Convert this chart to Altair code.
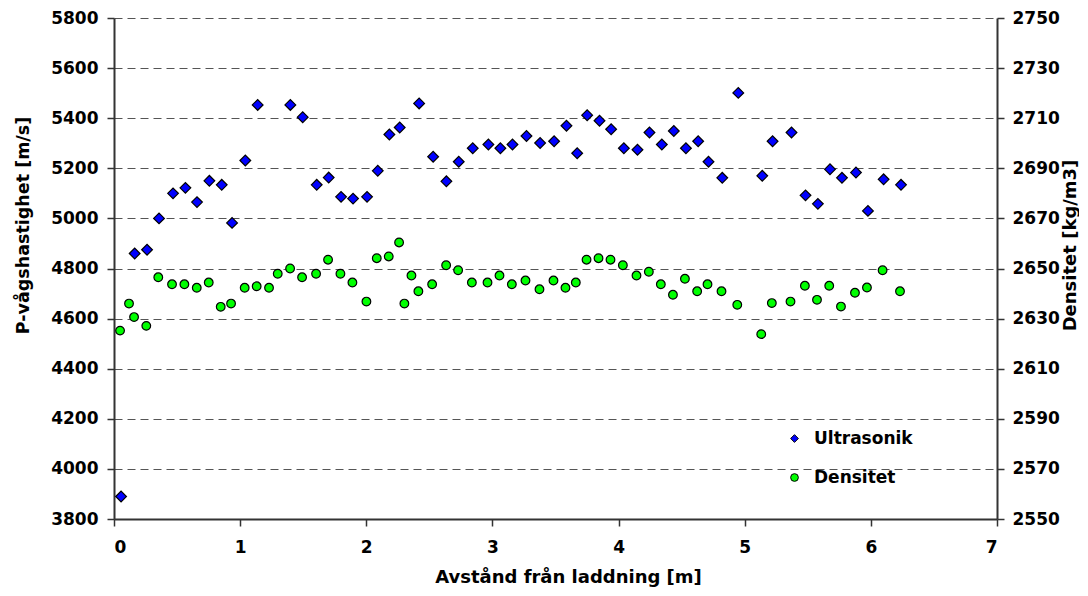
import altair as alt
import pandas as pd

ultra_x = [0.056, 0.164, 0.262, 0.357, 0.468, 0.566, 0.658, 0.756, 0.854, 0.936,
           1.041, 1.139, 1.398, 1.496, 1.607, 1.702, 1.800, 1.895, 2.006, 2.091,
           2.183, 2.265, 2.419, 2.530, 2.635, 2.733, 2.844, 2.968, 3.063, 3.159,
           3.270, 3.378, 3.489, 3.587, 3.672, 3.751, 3.849, 3.941, 4.042, 4.150,
           4.245, 4.343, 4.438, 4.534, 4.631, 4.713, 4.822, 4.949, 5.139, 5.221,
           5.371, 5.482, 5.580, 5.676, 5.771, 5.882, 5.977, 6.101, 6.239]
ultra_v = [3890, 4860, 4875, 5000, 5100, 5122, 5065, 5150, 5134, 4982,
           5231, 5453, 5453, 5404, 5134, 5163, 5086, 5079, 5086, 5190,
           5335, 5363, 5459, 5246, 5148, 5226, 5280, 5295, 5280, 5295,
           5329, 5301, 5308, 5370, 5260, 5412, 5390, 5356, 5280, 5274,
           5343, 5295, 5349, 5280, 5308, 5226, 5162, 5501, 5170, 5308,
           5343, 5092, 5058, 5196, 5162, 5183, 5030, 5156, 5134]

dens_x = [0.048, 0.119, 0.159, 0.256, 0.351, 0.460, 0.558, 0.656, 0.751, 0.846,
          0.928, 1.036, 1.131, 1.229, 1.298, 1.396, 1.491, 1.602, 1.697, 1.795,
          1.890, 2.001, 2.083, 2.178, 2.260, 2.302, 2.358, 2.413, 2.522, 2.633,
          2.728, 2.837, 2.961, 3.056, 3.154, 3.262, 3.373, 3.484, 3.579, 3.661,
          3.746, 3.841, 3.936, 4.034, 4.142, 4.240, 4.335, 4.431, 4.526, 4.623,
          4.705, 4.816, 4.941, 5.131, 5.215, 5.363, 5.477, 5.573, 5.670, 5.763,
          5.874, 5.969, 6.093, 6.231]
dens_v = [2625.2, 2636.0, 2630.6, 2627.1, 2646.5, 2643.7, 2643.7, 2642.3, 2644.4, 2634.7,
          2636.0, 2642.3, 2642.9, 2642.3, 2647.9, 2650.0, 2646.5, 2647.9, 2653.5, 2647.9,
          2644.4, 2636.8, 2654.1, 2654.8, 2660.4, 2636.0, 2647.2, 2640.9, 2643.7, 2651.3,
          2649.3, 2644.4, 2644.4, 2647.2, 2643.7, 2645.2, 2641.7, 2645.2, 2642.3, 2644.4,
          2653.5, 2654.1, 2653.5, 2651.3, 2647.2, 2648.7, 2643.7, 2639.5, 2645.9, 2640.9,
          2643.7, 2640.9, 2635.5, 2623.8, 2636.2, 2636.8, 2643.1, 2637.5, 2643.1, 2634.8,
          2640.3, 2642.4, 2649.3, 2640.9]

series_names = ["Ultrasonik", "Densitet"]
series_colors = ["#0000FF", "#00FF00"]
series_shapes = ["diamond", "circle"]
x_ticks = [0, 1, 2, 3, 4, 5, 6, 7]
left_ticks = list(range(3800, 5801, 200))
right_ticks = list(range(2550, 2751, 20))

df_u = pd.DataFrame({"x": ultra_x, "v": ultra_v, "serie": series_names[0]})
df_d = pd.DataFrame({"x": dens_x, "v": dens_v, "serie": series_names[1]})

FONT = "DejaVu Sans"

legend = alt.Legend(title=None, orient="none", legendX=672, legendY=412, padding=0,
                    rowPadding=21, labelFontSize=17, labelFont=FONT, labelFontWeight="bold",
                    labelColor="black", symbolSize=60, symbolStrokeWidth=1, labelOffset=11)

fill = alt.Fill("serie:N", scale=alt.Scale(domain=series_names, range=series_colors), legend=legend)
shape = alt.Shape("serie:N", scale=alt.Scale(domain=series_names, range=series_shapes), legend=legend)
outline = alt.Color("serie:N", scale=alt.Scale(domain=series_names, range=["black", "black"]), legend=legend)

x = alt.X("x:Q", scale=alt.Scale(domain=[0, 7], nice=False, zero=False),
          axis=alt.Axis(values=x_ticks, title="Avstånd från laddning [m]", grid=False,
                        format="d", labelPadding=13, titleX=454, titleY=58,
                        titleBaseline="middle"))

y_left = alt.Y("v:Q", scale=alt.Scale(domain=[3800, 5800], nice=False, zero=False),
               axis=alt.Axis(values=left_ticks, title="P-vågshastighet [m/s]", orient="left",
                             format="d", grid=True, gridDash=[8, 5], gridColor="#555555",
                             gridWidth=1, labelPadding=9, titleX=-91, titleY=207,
                             titleAngle=270, titleBaseline="middle", titleFontSize=17.5))

y_right = alt.Y("v:Q", scale=alt.Scale(domain=[2550, 2750], nice=False, zero=False),
                axis=alt.Axis(values=right_ticks, title="Densitet [kg/m3]", orient="right",
                              format="d", grid=False, labelPadding=8, titleX=73, titleY=227,
                              titleAngle=270, titleBaseline="middle"))

ultra = alt.Chart(df_u).mark_point(filled=False, size=115, strokeWidth=1.2, opacity=1,
                                   fillOpacity=1).encode(x=x, y=y_left, fill=fill,
                                                         shape=shape, color=outline)
dens = alt.Chart(df_d).mark_point(filled=False, size=75, strokeWidth=1.2, opacity=1,
                                  fillOpacity=1).encode(x=x, y=y_right, fill=fill,
                                                        shape=shape, color=outline)

chart = alt.layer(ultra, dens).resolve_scale(y="independent").properties(
    width=883, height=501,
    autosize=alt.AutoSizeParams(type="none"),
    padding={"left": 106, "top": 10, "right": 82, "bottom": 68},
).configure_axis(
    labelFont=FONT, labelFontSize=17, labelFontWeight="bold", labelColor="black",
    titleFont=FONT, titleFontSize=18, titleFontWeight="bold", titleColor="black",
    domainColor="#333333", domainWidth=2, tickColor="#333333", tickWidth=1.5, tickSize=7,
).configure_view(stroke=None)

chart.save("out.html", embed_options={"renderer": "svg", "actions": False})
